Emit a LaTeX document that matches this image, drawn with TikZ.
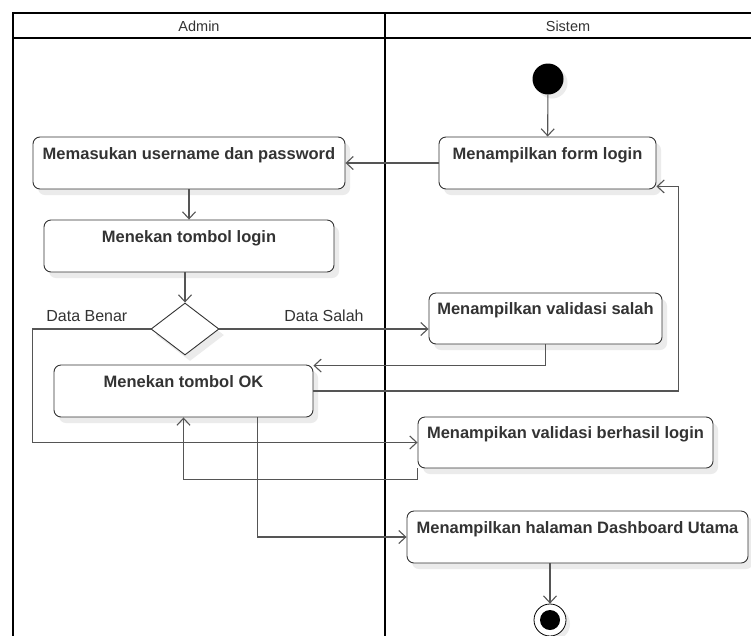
\documentclass[tikz,border=0pt]{standalone}
\usepackage{fontspec}
\setmainfont{Liberation Sans}
\usepackage{tikz}
\usetikzlibrary{arrows.meta,positioning,shapes.geometric,shadows}
\definecolor{ink}{HTML}{333333}
\definecolor{wire}{HTML}{555555}

\begin{document}
\begin{tikzpicture}[
      x=1pt,y=-1pt,
      lane/.style={line width=2.8pt,black},
      hdr/.style={font=\fontsize{14.5}{16}\selectfont,text=ink,inner sep=0pt},
      act/.style={draw=ink,rounded corners=7pt,line width=0.9pt,fill=white,
                  inner sep=0pt,minimum height=52pt,text height=16pt,text depth=24pt,
                  text=ink,font=\fontsize{16.5}{18}\selectfont\bfseries,
                  drop shadow={shadow xshift=5pt,shadow yshift=-6pt,fill=black!8,opacity=1}},
      choice/.style={diamond,draw=ink,line width=0.9pt,fill=white,inner sep=0pt,
                  minimum width=68pt,minimum height=52pt,
                  drop shadow={shadow xshift=5pt,shadow yshift=-6pt,fill=black!8,opacity=1}},
      startdot/.style={circle,fill=black,minimum size=31pt,inner sep=0pt,
                  drop shadow={shadow xshift=4pt,shadow yshift=-4pt,fill=black!8,opacity=1}},
      enddot/.style={circle,draw=black,line width=0.8pt,fill=white,minimum size=32pt,
                  inner sep=0pt,
                  path picture={\fill[black] (path picture bounding box.center) circle (10pt);},
                  drop shadow={shadow xshift=4pt,shadow yshift=-4pt,fill=black!8,opacity=1}},
      lbl/.style={font=\fontsize{16}{18}\selectfont,text=ink,inner sep=0pt},
      arr/.style={-{Straight Barb[length=7pt,width=13pt]},draw=wire,line width=1.1pt}]
    \fill[white] (0,0) rectangle (751,635);
    \useasboundingbox (0,0) rectangle (751,635);

    % swimlanes
    \draw[lane] (751,13) -- (13,13) -- (13,640);
    \draw[lane] (13,38) -- (751,38);
    \draw[lane] (385,13) -- (385,640);
    \node[hdr] (hadmin) at (199,26) {Admin};
    \node[hdr] (hsistem) at (568,26) {Sistem};

    \node[startdot] (st) at (548,79) {};
    \node[act,minimum width=217pt] (form) at (547.5,163) {Menampilkan form login};
    \node[act,minimum width=312pt] (masuk) at (189,163) {Memasukan username dan password};
    \node[act,minimum width=290pt] (login) at (189,246) {Menekan tombol login};
    \node[choice] (dec) at (185,329) {};
    \node[act,minimum width=233pt,minimum height=51pt] (salah) at (545.5,318.5)
      {Menampilkan validasi salah};
    \node[act,minimum width=259pt] (ok) at (183.5,391) {Menekan tombol OK};
    \node[act,minimum width=295pt,minimum height=51pt] (berhasil) at (565.5,442.5)
      {Menampikan validasi berhasil login};
    \node[act,minimum width=341pt] (dash) at (577.5,537) {Menampilkan halaman Dashboard Utama};
    \node[enddot] (fin) at (550,620) {};

    \draw[arr] (st) -- (form);
    \draw[arr] (form) -- (masuk);
    \draw[arr] (masuk) -- (login);
    \draw[arr] (dec.north |- login.south) -- (dec.north);
    \draw[arr] (dec.east) -- (dec.east -| salah.west)
      node[lbl,midway,anchor=base,yshift=8pt] {Data Salah};
    \draw[arr] (dec.west) -| (masuk.west |- berhasil.west)
      node[lbl,pos=0.27,anchor=base,yshift=8pt] {Data Benar} -- (berhasil.west);
    \draw[arr] (salah) |- ([yshift=-1pt]ok.north east);
    \draw[arr] (ok) -| ([xshift=22pt,yshift=3pt]form.south east) -- ([yshift=3pt]form.south east);
    \draw[arr] (berhasil.south west) -- ++(0,11) -| (ok);
    \draw[arr] ([xshift=74pt]ok.south) |- (dash);
    \draw[arr] (fin |- dash.south) -- (fin);
  \end{tikzpicture}
\end{document}
